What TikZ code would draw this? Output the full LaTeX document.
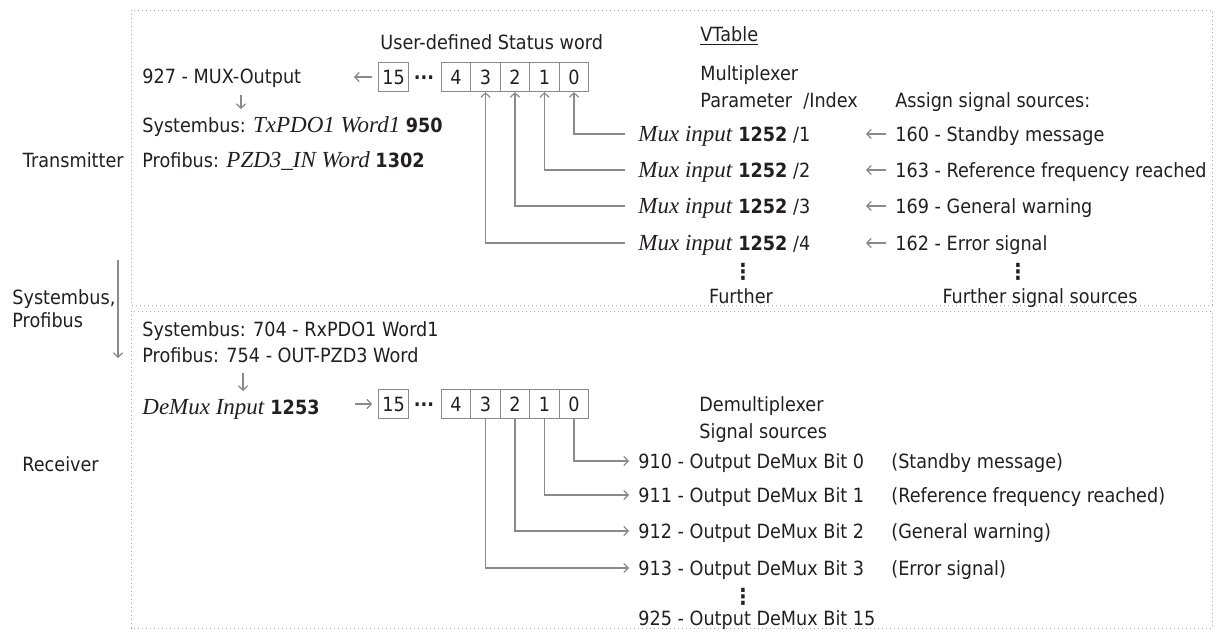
\documentclass[tikz,border=0pt]{standalone}
\usepackage{fontspec}
\setmainfont{DejaVu Sans}[FakeStretch=0.9]
\newfontfamily\tmi{Liberation Serif}
\usetikzlibrary{arrows.meta}
\definecolor{txt}{HTML}{231F20}
\definecolor{ln}{HTML}{8A8A8A}
\definecolor{dotc}{HTML}{A8A8A8}
\newcommand\itx[1]{{\tmi\itshape\fontsize{11.5}{12}\selectfont #1}}
\tikzset{
  lbl/.style={inner sep=0pt, text=txt, font=\fontsize{9.8}{12}\selectfont, text height=7pt, text depth=0pt},
  vdots/.style={inner sep=0pt, text=txt, font=\fontsize{11}{12}\selectfont\bfseries},
  bitbox/.style={draw=ln, line width=0.6pt, minimum width=14.75pt, minimum height=14.5pt, inner sep=0pt, text=txt, font=\fontsize{9.8}{12}\selectfont},
  conn/.style={draw=ln, line width=0.6pt},
  tip/.style={-{Straight Barb[length=2.2pt,width=4.6pt]}},
  frame/.style={draw=dotc, line width=0.5pt, dash pattern=on 0.6pt off 1.4pt}
}
\begin{document}
\begin{tikzpicture}[x=0.5pt,y=-0.5pt]
\useasboundingbox (0,0) rectangle (1215,633);
% frames
\draw[frame] (131,10) rectangle (1212,305);
\draw[frame] (131,311) rectangle (1212,628);
% left labels
\node[lbl,anchor=east] (tx) at (124,160) {Transmitter};
\node[lbl,anchor=west] (sb) at (12,297) {Systembus,};
\node[lbl,anchor=west] (pb) at (12,320) {Profibus};
\coordinate (busA) at (118,260);
\coordinate (busB) at (118,358);
\draw[conn,tip] (busA) -- (busB);
\node[lbl,anchor=west] (rx) at (22,464) {Receiver};

% ---------- transmitter ----------
\node[lbl,anchor=west] (usw) at (380,42) {User-defined Status word};
\node[bitbox] (t15) at (393.5,77) {15};
\node[lbl] (tdots) at (424,77) {\textbf{···}};
\node[bitbox] (t4) at (456,77) {4};
\node[bitbox] (t3) at (485.5,77) {3};
\node[bitbox] (t2) at (515,77) {2};
\node[bitbox] (t1) at (544.5,77) {1};
\node[bitbox] (t0) at (574,77) {0};

\node[lbl,anchor=west] (mo) at (142,76) {927 - MUX-Output};
\coordinate (moA) at (354,77);
\draw[conn,tip] ([xshift=-3pt]t15.west) -- (moA);
\coordinate (mdA) at (241,95);
\coordinate (mdB) at (241,109);
\draw[conn,tip] (mdA) -- (mdB);
\node[lbl,anchor=west] (stx) at (142,125) {Systembus: \itx{TxPDO1 Word1} \textbf{950}};
\node[lbl,anchor=west] (ptx) at (142,160) {Profibus: \itx{PZD3\_IN Word} \textbf{1302}};

\node[lbl,anchor=west] (vt) at (700,34) {\underline{VTable}};
\node[lbl,anchor=west] (mpx) at (700,73) {Multiplexer};
\node[lbl,anchor=west] (par) at (700,100) {Parameter\ \ /Index};
\node[lbl,anchor=west] (asg) at (895,100) {Assign signal sources:};

\foreach \i/\y/\b/\s in {1/134/t0/160 - Standby message,2/170/t1/163 - Reference frequency reached,3/206/t2/169 - General warning,4/243/t3/162 - Error signal}{
  \node[lbl,anchor=west] (mux\i) at (638,\y) {\itx{Mux input} \textbf{1252} /\i};
  \draw[conn,tip] ([xshift=-6.5pt]mux\i.west) -| (\b.south);
  \node[lbl,anchor=west] (src\i) at (895,\y) {\s};
  \draw[conn,tip] ([xshift=-4.5pt]src\i.west) -- ([xshift=-14.5pt]src\i.west);
}
\node[vdots] (vd1) at (743,272) {⋮};
\node[lbl] (fur) at (741,296) {Further};
\node[vdots] (vd2) at (1018,272) {⋮};
\node[lbl] (fss) at (1040,296) {Further signal sources};

% ---------- receiver ----------
\node[lbl,anchor=west] (srx) at (142,329) {Systembus: 704 - RxPDO1 Word1};
\node[lbl,anchor=west] (prx) at (142,355) {Profibus: 754 - OUT-PZD3 Word};
\coordinate (rdA) at (243,373);
\coordinate (rdB) at (243,391);
\draw[conn,tip] (rdA) -- (rdB);
\node[lbl,anchor=west] (dmi) at (142,407) {\itx{DeMux Input} \textbf{1253}};

\node[bitbox] (b15) at (393.5,404) {15};
\node[lbl] (bdots) at (424,404) {\textbf{···}};
\node[bitbox] (b4) at (456,404) {4};
\node[bitbox] (b3) at (485.5,404) {3};
\node[bitbox] (b2) at (515,404) {2};
\node[bitbox] (b1) at (544.5,404) {1};
\node[bitbox] (b0) at (574,404) {0};
\coordinate (dmA) at (355,404);
\draw[conn,tip] (dmA) -- ([xshift=-3pt]b15.west);

\node[lbl,anchor=west] (dmx) at (699,404) {Demultiplexer};
\node[lbl,anchor=west] (sgs) at (699,431) {Signal sources};

\foreach \i/\y/\b/\s in {0/461/b0/Standby message,1/495/b1/Reference frequency reached,2/531/b2/General warning,3/568/b3/Error signal}{
  \node[lbl,anchor=west] (out\i) at (638,\y) {91\i\ - Output DeMux Bit \i};
  \draw[conn,tip] (\b.south) |- ([xshift=-4.5pt]out\i.west);
  \node[lbl,anchor=west] (note\i) at (891,\y) {(\s)};
}
\node[vdots] (vd3) at (743,597) {⋮};
\node[lbl,anchor=west] (out15) at (638,618) {925 - Output DeMux Bit 15};
\end{tikzpicture}
\end{document}
